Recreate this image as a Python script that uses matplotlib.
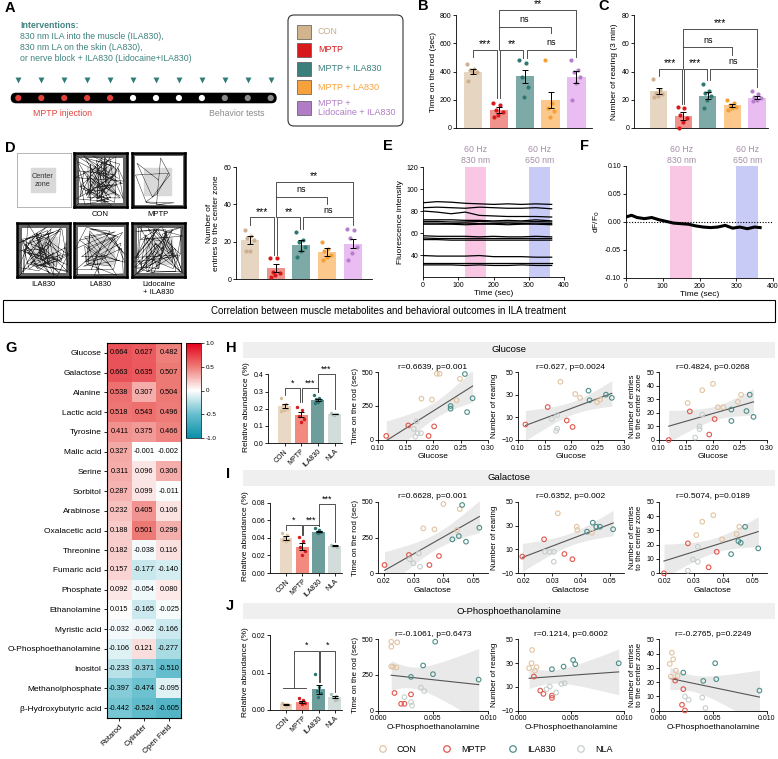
import numpy as np
import matplotlib
matplotlib.use('Agg')
import matplotlib.pyplot as plt
from matplotlib.patches import FancyBboxPatch, Rectangle
from matplotlib.colors import LinearSegmentedColormap
from matplotlib.ticker import FormatStrFormatter

plt.rcParams['font.family'] = ['Liberation Sans', 'DejaVu Sans']
plt.rcParams['font.size'] = 5.5
plt.rcParams['axes.linewidth'] = 0.6
for a in ('xtick', 'ytick'):
    plt.rcParams[a + '.major.width'] = 0.6
    plt.rcParams[a + '.major.size'] = 2
    plt.rcParams[a + '.labelsize'] = 5
    plt.rcParams[a + '.major.pad'] = 1.5
plt.rcParams['axes.labelpad'] = 2

# ------------------------------------------------------------------ DATA
groups_row1 = ['CON', 'MPTP', 'MPTP + ILA830', 'MPTP + LA830', 'MPTP +\nLidocaine + ILA830']
rotarod_mean = [400, 125, 365, 200, 360]
rotarod_sem = [20, 22, 48, 58, 42]
rotarod_pts = [[450, 420, 410, 400, 395, 330], [175, 160, 130, 110, 95, 80],
               [481, 458, 359, 288, 222], [481, 175, 140, 118, 80],
               [481, 410, 395, 360, 320, 200]]
rearing_mean = [26, 8.5, 23, 16, 21.5]
rearing_sem = [2.0, 2.5, 2.5, 1.2, 1.2]
rearing_pts = [[35, 27, 25, 24, 23, 22], [15, 14, 9, 7, 4, 0], [31, 26, 25, 23, 20, 14],
               [20, 18, 16, 15, 14, 13], [26, 24, 22, 21, 20, 19]]
entries_mean = [21, 6, 18, 14.5, 19]
entries_sem = [2.0, 2.0, 3.0, 2.0, 2.5]
entries_pts = [[26, 23, 22, 21, 15, 15], [11, 11, 4, 3, 2, 1], [25, 21, 20, 17, 15, 12],
               [20, 16, 15, 13, 12, 10], [27, 26, 22, 17, 14, 10]]

e_time = [0, 40, 80, 120, 160, 200, 240, 280, 320, 365]
e_traces = [
    [87.5, 88.5, 88, 87, 86.5, 86, 86.5, 86, 86.5, 86],
    [83, 83.5, 83, 82.5, 83.5, 83, 82.5, 82.5, 83, 82],
    [80, 79, 77.5, 79, 76, 75.5, 75, 75, 75, 74.5],
    [72, 72, 72, 71.5, 71.5, 71, 71.5, 71, 72, 71],
    [70.5, 70.5, 70, 70, 70.5, 70, 70, 70, 70.5, 70],
    [69, 69, 68.5, 69, 68.5, 68.5, 69, 68.5, 69, 68.5],
    [68, 68, 68, 67.5, 68, 68, 67.5, 68, 68, 67.5],
    [57.5, 57, 57, 57, 56.5, 57, 56.5, 56.5, 57, 56.5],
    [55.5, 55, 55, 55, 55, 55, 55, 55, 55, 55],
    [54, 54, 53.5, 53.5, 53.5, 53.5, 53.5, 53.5, 53.5, 53.5],
    [39.5, 39, 39, 39, 39.5, 38.5, 38.5, 38.5, 38, 38],
    [33, 33, 33, 33, 33, 33, 33, 33, 33, 33],
    [31, 31, 31, 30.5, 31, 30.5, 30.5, 31, 30.5, 30.5],
]
f_time = [0, 15, 30, 50, 70, 90, 110, 130, 150, 170, 190, 210, 230, 250, 270, 290, 310, 330, 350, 365]
f_val = [0.009, 0.012, 0.008, 0.006, 0.008, 0.004, 0.001, -0.002, -0.003, -0.004, -0.007,
         -0.009, -0.010, -0.009, -0.006, -0.011, -0.009, -0.012, -0.009, -0.010]

metabolites = ['Glucose', 'Galactose', 'Alanine', 'Lactic acid', 'Tyrosine', 'Malic acid', 'Serine',
               'Sorbitol', 'Arabinose', 'Oxalacetic acid', 'Threonine', 'Fumaric acid', 'Phosphate',
               'Ethanolamine', 'Myristic acid', 'O-Phosphoethanolamine', 'Inositol',
               'Methanolphosphate', 'β-Hydroxybutyric acid']
behaviors = ['Rotarod', 'Cylinder', 'Open Field']
corr_rotarod = [0.664, 0.663, 0.538, 0.518, 0.411, 0.327, 0.311, 0.287, 0.232, 0.188, 0.182, 0.157,
                0.092, 0.015, -0.032, -0.106, -0.233, -0.397, -0.442]
corr_cylinder = [0.627, 0.635, 0.307, 0.543, 0.375, -0.001, 0.096, 0.099, 0.405, 0.501, -0.038,
                 -0.177, -0.054, -0.165, -0.062, 0.121, -0.371, -0.474, -0.524]
corr_openfield = [0.482, 0.507, 0.504, 0.496, 0.466, -0.002, 0.306, -0.011, 0.106, 0.299, 0.116,
                  -0.140, 0.080, -0.025, -0.166, -0.277, -0.510, -0.095, -0.605]

groups_hij = ['CON', 'MPTP', 'ILA830', 'NLA']
glc_mean = [0.215, 0.165, 0.25, 0.17]
glc_sem = [0.012, 0.016, 0.007, 0.002]
glc_pts = [[0.26, 0.23, 0.22, 0.2, 0.19, 0.185], [0.21, 0.19, 0.16, 0.14, 0.12],
           [0.28, 0.26, 0.255, 0.25, 0.24, 0.235], [0.175, 0.172, 0.17, 0.168, 0.166]]
gal_mean = [0.040, 0.030, 0.047, 0.031]
gal_sem = [0.002, 0.004, 0.001, 0.0005]
gal_pts = [[0.045, 0.043, 0.041, 0.038, 0.036, 0.037], [0.041, 0.036, 0.03, 0.025, 0.02],
           [0.051, 0.049, 0.047, 0.046, 0.045], [0.032, 0.031, 0.031, 0.030]]
ope_mean = [0.0015, 0.0022, 0.0055, 0.0034]
ope_sem = [0.0002, 0.0003, 0.0011, 0.0003]
ope_pts = [[0.0018, 0.0016, 0.0015, 0.0014, 0.0012], [0.0031, 0.0026, 0.0022, 0.0019, 0.0017],
           [0.0095, 0.0062, 0.0052, 0.0045, 0.0035], [0.0042, 0.0038, 0.0034, 0.003, 0.0028]]

# scatter data: {group: (x list, y list)}
glc_rot = {'CON': ([0.207, 0.212, 0.249, 0.179, 0.198, 0.243], [487, 487, 450, 304, 297, 292]),
           'MPTP': ([0.115, 0.155, 0.202, 0.192], [30, 107, 100, 30]),
           'ILA830': ([0.258, 0.272, 0.232, 0.232, 0.262], [485, 307, 250, 230, 205]),
           'NLA': ([0.170, 0.165, 0.172, 0.168, 0.178], [137, 82, 50, 25, 50])}
glc_rear = {'CON': ([0.180, 0.208, 0.217, 0.249, 0.255], [41.4, 30.6, 27.2, 23.4, 25.7]),
            'MPTP': ([0.156, 0.114, 0.192, 0.203], [19.1, 3.7, 7.2, 1.5]),
            'ILA830': ([0.233, 0.235, 0.266, 0.277], [33.5, 25.1, 30, 27.2]),
            'NLA': ([0.164, 0.174, 0.174, 0.172], [8.6, 12, 0, -2])}
glc_ent = {'CON': ([0.200, 0.180, 0.153, 0.209, 0.219, 0.252, 0.246], [41.3, 36.6, 27.2, 24.1, 24.1, 33.3, 28]),
           'MPTP': ([0.157, 0.203, 0.193, 0.118], [21, 15.4, 4, 0]),
           'ILA830': ([0.268, 0.234, 0.262, 0.275, 0.234], [33.3, 22.4, 21.3, 17, 14]),
           'NLA': ([0.175, 0.175, 0.180, 0.167], [10, 8, 18.7, 1.8])}
gal_rot = {'CON': ([0.040, 0.0455, 0.0332, 0.037, 0.0446], [484, 449, 314, 307, 302]),
           'MPTP': ([0.0284, 0.0385, 0.0202, 0.0353], [128, 121, 58, 58]),
           'ILA830': ([0.0463, 0.0521, 0.0452, 0.043, 0.0476], [477, 318, 260, 237, 221]),
           'NLA': ([0.0317, 0.0299, 0.0321, 0.0287], [140, 70, 46, 98])}
gal_rear = {'CON': ([0.0319, 0.0385, 0.0387, 0.0438], [40.3, 29, 26.3, 24]),
            'MPTP': ([0.0271, 0.0195, 0.0342, 0.037], [18.5, 4, 6.2, 1.8]),
            'ILA830': ([0.0441, 0.0421, 0.0453, 0.0466, 0.0512], [32.4, 24.9, 29, 29, 26.9]),
            'NLA': ([0.0274, 0.0291, 0.0305, 0.0305], [8.1, 8, 8, -0.3])}
gal_ent = {'CON': ([0.0366, 0.0328, 0.0308, 0.0396, 0.0455, 0.0446], [40.6, 36, 26.7, 23.7, 32.5, 27.4]),
           'MPTP': ([0.0279, 0.0378, 0.035, 0.0197], [20.9, 15, 4.2, 0]),
           'ILA830': ([0.0475, 0.0452, 0.046, 0.052, 0.0427], [32.5, 22.5, 21.3, 17.4, 13.4]),
           'NLA': ([0.0313, 0.0296, 0.0313, 0.0279], [18.5, 9.7, 8, 1.8])}
ope_rot = {'CON': ([0.00121, 0.00121, 0.00175, 0.00136, 0.0012, 0.00167], [483, 448, 479, 306, 310, 302]),
           'MPTP': ([0.0015, 0.003, 0.0021, 0.0024], [123, 113, 47, 47]),
           'ILA830': ([0.0052, 0.0041, 0.005, 0.003, 0.00915], [483, 316, 255, 236, 217]),
           'NLA': ([0.0039, 0.0042, 0.0024, 0.003, 0.0031], [160, 137, 94, 59, 35])}
ope_rear = {'CON': ([0.00133, 0.00128, 0.00105, 0.00175, 0.0016], [41, 29.8, 25.6, 26.5, 23.6]),
            'MPTP': ([0.0015, 0.0021, 0.0024, 0.0032, 0.0032], [18.6, 6.8, 4, 2.6, 0.6]),
            'ILA830': ([0.0032, 0.0043, 0.0052, 0.0054, 0.0095], [24.8, 27, 32.6, 29, 29.8]),
            'NLA': ([0.0041, 0.0044, 0.003, 0.0027, 0.0036], [12.4, 13, 10.2, 8, 5.1])}
ope_ent = {'CON': ([0.00119, 0.00131, 0.001, 0.00156, 0.00172, 0.0011], [40.6, 36, 32.7, 28, 24.3, 23.8]),
           'MPTP': ([0.0015, 0.00225, 0.00213, 0.0024], [21, 15, 4, 0]),
           'ILA830': ([0.00225, 0.0052, 0.0053, 0.0041, 0.0093], [26.6, 33.2, 22, 20.8, 14]),
           'NLA': ([0.0024, 0.00275, 0.004, 0.0043], [9.8, 7.5, 9.1, 1.7])}

titles_glc = ['r=0.6639, p=0.001', 'r=0.627, p=0.0024', 'r=0.4824, p=0.0268']
titles_gal = ['r=0.6628, p=0.001', 'r=0.6352, p=0.002', 'r=0.5074, p=0.0189']
titles_ope = ['r=-0.1061, p=0.6473', 'r=0.1214, p=0.6002', 'r=-0.2765, p=0.2249']

# ------------------------------------------------------------------ STYLE
fill1 = ['#E6D5C1', '#F0938C', '#7DAAA6', '#FCC88C', '#E9BDF2']
dot1 = ['#CDB08F', '#D7191C', '#2E7873', '#F5A035', '#B77FCB']
leg1 = ['#D2B48C', '#D7191C', '#3A7F7A', '#F6A23C', '#B07CC6']
legtxt1 = ['#C9AE8C', '#D7191C', '#3A7F7A', '#F6A23C', '#B07CC6']
fill2 = ['#E8D8C4', '#F28A80', '#6E9E9B', '#D2DCDA']
dot2 = ['#D8BE9C', '#D7191C', '#2A7571', '#AFC0BC']
sc_edge = {'CON': '#E2C4A0', 'MPTP': '#E0574D', 'ILA830': '#4E8E8A', 'NLA': '#C6CECB'}

W, H = 778, 759
fig = plt.figure(figsize=(W / 100, H / 100), dpi=100)


def pax(x0, y0, x1, y1, **kw):
    return fig.add_axes([x0 / W, 1 - y1 / H, (x1 - x0) / W, (y1 - y0) / H], **kw)


ov = fig.add_axes([0, 0, 1, 1], zorder=-5)
ov.set_xlim(0, W)
ov.set_ylim(H, 0)
ov.axis('off')


def clean(ax):
    ax.spines['top'].set_visible(False)
    ax.spines['right'].set_visible(False)


def bars(ax, means, sems, pts, fills, dots, width=0.72, s=9):
    x = np.arange(len(means))
    ax.bar(x, means, width=width, color=fills, zorder=1)
    for i in range(len(means)):
        p = np.asarray(pts[i])
        n = len(p)
        offs = (((np.arange(n) * 0.618) % 1) - 0.5) * width * 0.6
        ax.scatter(x[i] + offs, p, s=s, color=dots[i], lw=0, zorder=3, clip_on=False)
        ax.errorbar(x[i], means[i], yerr=sems[i], color='black', capsize=2.3, lw=0.7,
                    capthick=0.7, zorder=4)
    clean(ax)


def bracket(ax, x1, x2, y, h1, h2, text, fs=7.5, off=0.5):
    ax.plot([x1, x1, x2, x2], [h1, y, y, h2], color='#333333', lw=0.6, clip_on=False, zorder=5)
    if text:
        ax.annotate(text, xy=((x1 + x2) / 2, y), xytext=(0, off), textcoords='offset points',
                    ha='center', va='bottom', fontsize=fs, annotation_clip=False)


# ------------------------------------------------------------------ PANEL LETTERS
for lab, (lx, ly) in {'A': (5, 8), 'B': (418, 6), 'C': (598, 6), 'D': (5, 148), 'E': (383, 146),
                      'F': (580, 146), 'G': (5, 348), 'H': (226, 348), 'I': (226, 474),
                      'J': (226, 606)}.items():
    ov.text(lx, ly, lab, fontsize=10.5, fontweight='bold', va='center', ha='left')

# ------------------------------------------------------------------ A
teal_txt = '#3F837E'
ov.text(20, 25, 'Interventions:', fontsize=6.3, color=teal_txt, fontweight='bold', va='center')
for k, line in enumerate(['830 nm ILA into the muscle (ILA830),', '830 nm LA on the skin (LA830),',
                          'or nerve block + ILA830 (Lidocaine+ILA830)']):
    ov.text(20, 36.5 + 11.2 * k, line, fontsize=6.3, color=teal_txt, va='center')
tx = np.linspace(18.3, 270.7, 12)
ov.scatter(tx, [80] * 12, marker='v', s=18, color='#2E7D78', lw=0)
ov.add_patch(FancyBboxPatch((10.7, 92.7), 266, 10.6, boxstyle='round,pad=0,rounding_size=5.3',
                            fc='black', ec='none'))
dcol = ['#E0413A'] * 5 + ['white'] * 4 + ['#8A8A8A'] * 3
ov.scatter(tx, [98] * 12, s=20, c=dcol, lw=0, zorder=3)
ov.text(63, 113, 'MPTP injection', fontsize=6.3, color='#E0413A', ha='center', va='center')
ov.text(237, 113, 'Behavior tests', fontsize=6.3, color='#8A8A8A', ha='center', va='center')

# legend box
ov.add_patch(FancyBboxPatch((288, 15), 115, 111, boxstyle='round,pad=0,rounding_size=6',
                            fc='none', ec='#333333', lw=0.8))
leg_y = [31.5, 50, 68.5, 87, 108]
for name, c, tc, yy in zip(groups_row1, leg1, legtxt1, leg_y):
    ov.add_patch(Rectangle((297, yy - 7), 14, 14, fc=c, ec='#555555', lw=0.5))
    ov.text(318, yy, name, fontsize=6.5, color=tc, va='center', ha='left', linespacing=1.1)

# ------------------------------------------------------------------ B
axB = pax(456, 15, 592, 128)
bars(axB, rotarod_mean, rotarod_sem, rotarod_pts, fill1, dot1, width=0.7)
axB.set_xlim(-0.65, 4.6)
axB.set_ylim(0, 800)
axB.set_yticks([0, 200, 400, 600, 800])
axB.set_xticks([])
axB.set_ylabel('Time on the rod (sec)', fontsize=6)
bracket(axB, 0, 0.95, 552, 500, 210, '***')
bracket(axB, 1.05, 1.95, 552, 210, 495, '**')
bracket(axB, 2.08, 4, 555, 495, 500, 'ns', fs=6.5, off=2)
bracket(axB, 1, 3, 717, 555, 672, 'ns', fs=6.5, off=2)
bracket(axB, 1, 4, 835, 717, 560, '**')

# ------------------------------------------------------------------ C
axC = pax(634, 15, 768, 128)
bars(axC, rearing_mean, rearing_sem, rearing_pts, fill1, dot1, width=0.7)
axC.set_xlim(-1.0, 4.45)
axC.set_ylim(0, 80)
axC.set_yticks([0, 20, 40, 60, 80])
axC.set_xticks([])
axC.set_ylabel('Number of rearing (3 min)', fontsize=6)
bracket(axC, 0, 0.95, 42, 37, 17, '***')
bracket(axC, 1.05, 1.95, 42, 17, 34, '***')
bracket(axC, 2.08, 4, 42, 34, 29, 'ns', fs=6.5, off=2)
bracket(axC, 1, 3, 57, 42, 52, 'ns', fs=6.5, off=2)
bracket(axC, 1, 4, 70, 57, 43, '***')

# ------------------------------------------------------------------ D (open field tracks)


def fold(v):
    v = v % 2.0
    return 2.0 - v if v > 1.0 else v


def draw_track(ax, n, a0, box, border=1.8, edge_loops=3):
    ax.set_xlim(0, 1)
    ax.set_ylim(0, 1)
    ax.set_xticks([])
    ax.set_yticks([])
    ax.add_patch(Rectangle(box[:2], box[2], box[3], color='#D9D9D9', zorder=0))
    x, y, th = 0.5, 0.5, a0
    xs, ys = [x], [y]
    for k in range(n):
        L = 0.35 + 0.7 * ((k * 0.7548777 + a0) % 1)
        th += 1.0 + 2.2 * ((k * 0.6180339 + a0 * 0.3) % 1)
        x = fold(x + L * np.cos(th))
        y = fold(y + L * np.sin(th))
        xs.append(0.02 + 0.96 * x)
        ys.append(0.02 + 0.96 * y)
    ax.plot(xs, ys, color='#2A2A2A', lw=0.35)
    for j in range(edge_loops):
        d = 0.015 + 0.018 * j
        ax.plot([d, 1 - d, 1 - d, d, d], [d, d, 1 - d, 1 - d, d], color='#222222', lw=0.5)
    for s in ax.spines.values():
        s.set_linewidth(border)


axCZ = pax(17, 153, 71, 207)
axCZ.set_xlim(0, 1)
axCZ.set_ylim(0, 1)
axCZ.set_xticks([])
axCZ.set_yticks([])
for s in axCZ.spines.values():
    s.set_color('#AAAAAA')
    s.set_linewidth(0.6)
axCZ.add_patch(Rectangle((0.26, 0.28), 0.44, 0.44, color='#D9D9D9'))
axCZ.text(0.48, 0.5, 'Center\nzone', ha='center', va='center', fontsize=5.3, color='#333333')

for (x0, y0, n, a0, box, loops, lab, ly) in [
        (74, 153, 80, 0.31, (0.25, 0.25, 0.5, 0.5), 4, 'CON', 214),
        (132, 153, 12, 0.77, (0.23, 0.22, 0.5, 0.5), 2, 'MPTP', 214),
        (17, 223, 75, 0.13, (0.25, 0.25, 0.5, 0.5), 4, 'ILA830', 285),
        (74, 223, 45, 0.52, (0.25, 0.25, 0.5, 0.5), 3, 'LA830', 285),
        (132, 223, 65, 0.91, (0.25, 0.25, 0.5, 0.5), 4, 'Lidocaine\n+ ILA830', 281)]:
    a = pax(x0, y0, x0 + 53, y0 + 54)
    draw_track(a, n, a0, box, edge_loops=loops)
    ov.text(x0 + 26.5, ly, lab, fontsize=5.5, ha='center', va='center' if ly != 281 else 'top',
            linespacing=1.2)

axD = pax(236, 167, 372, 279)
bars(axD, entries_mean, entries_sem, entries_pts, fill1, dot1, width=0.7)
axD.set_xlim(-0.55, 4.75)
axD.set_ylim(0, 60)
axD.set_yticks([0, 20, 40, 60])
axD.set_xticks([])
axD.set_ylabel('Number of\nentries to the center zone', fontsize=6, linespacing=1.1)
bracket(axD, 0, 0.95, 33, 29, 13, '***')
bracket(axD, 1.05, 1.95, 33, 13, 27, '**')
bracket(axD, 2.08, 4, 33, 27, 29, 'ns', fs=6.5, off=2)
bracket(axD, 1, 3, 44, 33, 40, 'ns', fs=6.5, off=2)
bracket(axD, 1, 4, 52, 44, 34, '**')

# ------------------------------------------------------------------ E
band_txt = '#A58FA8'
axE = pax(423, 167, 564, 277)
axE.axvspan(120, 180, color='#F9C6E4', lw=0, zorder=0)
axE.axvspan(300, 360, color='#C9CBF7', lw=0, zorder=0)
for tr in e_traces:
    axE.plot(e_time, tr, color='black', lw=0.9)
axE.set_xlim(0, 400)
axE.set_ylim(20, 120)
axE.set_yticks([40, 60, 80, 100, 120])
axE.set_xticks([0, 100, 200, 300, 400])
axE.set_xlabel('Time (sec)', fontsize=6, labelpad=1)
axE.set_ylabel('Fluorescence intensity', fontsize=6)
clean(axE)
for xc, t in [(150, '60 Hz\n830 nm'), (330, '60 Hz\n650 nm')]:
    axE.text(xc, 122, t, ha='center', va='bottom', fontsize=6.3, color=band_txt, linespacing=1.2)

# ------------------------------------------------------------------ F
axF = pax(626, 166, 773, 278)
axF.axvspan(120, 180, color='#F9C6E4', lw=0, zorder=0)
axF.axvspan(300, 360, color='#C9CBF7', lw=0, zorder=0)
axF.axhline(0, color='black', lw=0.8, ls=(0, (1, 1.5)))
axF.plot(f_time, f_val, color='black', lw=2.2)
axF.set_xlim(0, 400)
axF.set_ylim(-0.10, 0.10)
axF.set_yticks([-0.10, -0.05, 0.0, 0.05, 0.10])
axF.yaxis.set_major_formatter(FormatStrFormatter('%.2f'))
axF.set_xticks([0, 100, 200, 300, 400])
axF.set_xlabel('Time (sec)', fontsize=6, labelpad=1)
axF.set_ylabel('dF/F$_0$', fontsize=6)
clean(axF)
for xc, t in [(150, '60 Hz\n830 nm'), (330, '60 Hz\n650 nm')]:
    axF.text(xc, 0.102, t, ha='center', va='bottom', fontsize=6.3, color=band_txt, linespacing=1.2)

# ------------------------------------------------------------------ header
ov.add_patch(Rectangle((3, 300), 772, 22, fc='white', ec='black', lw=0.8))
ov.text(389, 311, 'Correlation between muscle metabolites and behavioral outcomes in ILA treatment',
        fontsize=7, ha='center', va='center')

# ------------------------------------------------------------------ G heatmap
cmap = LinearSegmentedColormap.from_list('rb', [(0, '#0B8FA8'), (0.25, '#66BFCE'), (0.5, '#FFFFFF'),
                                                 (0.75, '#EE7B77'), (1, '#E4001B')])
vals = np.array([corr_rotarod, corr_cylinder, corr_openfield]).T
axG = pax(107, 343, 181, 718)
im = axG.imshow(vals, cmap=cmap, vmin=-1, vmax=1, aspect='auto', interpolation='nearest')
for i in range(vals.shape[0]):
    for j in range(vals.shape[1]):
        axG.text(j, i, f'{vals[i, j]:.3f}', ha='center', va='center', fontsize=5.3)
axG.set_yticks(range(len(metabolites)))
axG.set_yticklabels(metabolites, fontsize=6)
axG.set_xticks(range(3))
axG.set_xticklabels(behaviors, fontsize=5.5, rotation=45, ha='right', rotation_mode='anchor')
axG.tick_params(length=2.5)
for s in axG.spines.values():
    s.set_linewidth(0.8)
cax = pax(186, 343, 201, 438)
cb = fig.colorbar(im, cax=cax, ticks=[-1, -0.5, 0, 0.5, 1])
cb.ax.set_yticklabels(['-1.0', '-0.5', '0', '0.5', '1.0'], fontsize=4.5)
cb.ax.tick_params(length=2, width=0.5)
cb.outline.set_linewidth(0.5)

# ------------------------------------------------------------------ H / I / J


def small_bars(box, means, sems, pts, ylim, yticks, fmt):
    ax = pax(*box)
    bars(ax, means, sems, pts, fill2, dot2, width=0.78, s=6)
    ax.set_xlim(-1.0, 3.45)
    ax.set_ylim(*ylim)
    ax.set_yticks(yticks)
    ax.yaxis.set_major_formatter(FormatStrFormatter(fmt))
    ax.set_xticks(range(4))
    ax.set_xticklabels(groups_hij, rotation=45, ha='right', rotation_mode='anchor', fontsize=5)
    ax.set_ylabel('Relative abundance (%)', fontsize=6)
    return ax


def scatter_panel(box, data, xlim, xticks, xfmt, ylim, yticks, ylabel, xlabel, title):
    ax = pax(*box)
    allx, ally = [], []
    for g in groups_hij:
        xs, ys = data[g]
        ax.scatter(xs, ys, s=11, facecolor='none', edgecolor=sc_edge[g], lw=0.8, zorder=3,
                   clip_on=False)
        allx += xs
        ally += ys
    x = np.array(allx)
    y = np.array(ally)
    n = len(x)
    b, a = np.polyfit(x, y, 1)
    xx = np.linspace(x.min(), x.max(), 60)
    yy = a + b * xx
    resid = y - (a + b * x)
    sd = np.sqrt(np.sum(resid ** 2) / (n - 2))
    se = sd * np.sqrt(1 / n + (xx - x.mean()) ** 2 / np.sum((x - x.mean()) ** 2))
    ax.fill_between(xx, yy - 2.09 * se, yy + 2.09 * se, color='#E9E9E9', lw=0, zorder=0)
    ax.plot(xx, yy, color='#555555', lw=0.8, zorder=1)
    ax.set_xlim(*xlim)
    ax.set_ylim(*ylim)
    ax.set_xticks(xticks)
    ax.xaxis.set_major_formatter(FormatStrFormatter(xfmt))
    ax.set_yticks(yticks)
    ax.set_ylabel(ylabel, fontsize=5.8, linespacing=1.05)
    ax.set_xlabel(xlabel, fontsize=6, labelpad=1)
    ax.set_title(title, fontsize=6, pad=2.5)
    clean(ax)
    return ax


ylabels = ['Time on the rod (sec)', 'Number of rearing', 'Number of entries\nto the center zone']
yl = [(0, 500), (-10, 50), (0, 50)]
yt = [[0, 250, 500], [-10, 10, 30, 50], [0, 10, 20, 30, 40, 50]]
xcols = [(378, 488), (518, 624), (659, 767)]

rows = [
    ('Glucose', 342, (268, 371, 342, 443), glc_mean, glc_sem, glc_pts, (0, 0.42), [0, 0.1, 0.2, 0.3, 0.4],
     '%.1f', [glc_rot, glc_rear, glc_ent], (0.10, 0.30), [0.10, 0.15, 0.20, 0.25, 0.30], '%.2f',
     titles_glc, (372, 440)),
    ('Galactose', 470, (270, 499, 342, 573), gal_mean, gal_sem, gal_pts, (0, 0.084),
     [0, 0.02, 0.04, 0.06, 0.08], '%.2f', [gal_rot, gal_rear, gal_ent], (0.018, 0.055),
     [0.02, 0.03, 0.04, 0.05], '%.2f', titles_gal, (501.7, 573.3)),
    ('O-Phosphoethanolamine', 603, (270, 635, 342, 710), ope_mean, ope_sem, ope_pts, (0, 0.02),
     [0, 0.01, 0.02], '%.2f', [ope_rot, ope_rear, ope_ent], (0, 0.010), [0, 0.005, 0.010], '%.3f',
     titles_ope, (639.3, 710.5)),
]
bar_axes = []
for (name, sy, bbox, m, se, p, ylm, ytk, yfmt, sdata, xlm, xtk, xfmt, tts, (st, sb)) in rows:
    ov.add_patch(Rectangle((243, sy), 532, 16, fc='#EFEFEF', ec='none'))
    ov.text(509, sy + 8, name, fontsize=6.8, ha='center', va='center')
    bax = small_bars(bbox, m, se, p, ylm, ytk, yfmt)
    bax.spines['left'].set_bounds(ytk[0], ytk[-1])
    bar_axes.append(bax)
    for k in range(3):
        scatter_panel((xcols[k][0], st, xcols[k][1], sb), sdata[k], xlm, xtk, xfmt, yl[k], yt[k],
                      ylabels[k], name, tts[k])

axh, axi, axj = bar_axes
bracket(axh, 0, 0.95, 0.32, 0.28, 0.24, '*', fs=6.5)
bracket(axh, 1.05, 2, 0.32, 0.24, 0.30, '***', fs=6.5)
bracket(axh, 2, 3, 0.40, 0.30, 0.20, '***', fs=6.5)
bracket(axi, 0, 0.95, 0.054, 0.049, 0.043, '*', fs=6.5)
bracket(axi, 1.05, 2, 0.054, 0.043, 0.053, '***', fs=6.5)
bracket(axi, 2, 3, 0.078, 0.053, 0.035, '***', fs=6.5)
axj.plot([-0.2, 1.2], [0.0059, 0.0059], color='#333333', lw=0.6)
bracket(axj, 0.5, 2, 0.0158, 0.0059, 0.0075, '*', fs=6.5)
bracket(axj, 2.1, 3, 0.0158, 0.0075, 0.0048, '*', fs=6.5)

# bottom legend
for gx, tx_, g in [(383, 397, 'CON'), (447, 461, 'MPTP'), (513, 527, 'ILA830'), (581, 595, 'NLA')]:
    ov.scatter([gx], [749], s=22, facecolor='none', edgecolor=sc_edge[g], lw=0.9)
    ov.text(tx_, 749, g, fontsize=6.5, va='center', ha='left')

fig.savefig('out.png', dpi=100)
